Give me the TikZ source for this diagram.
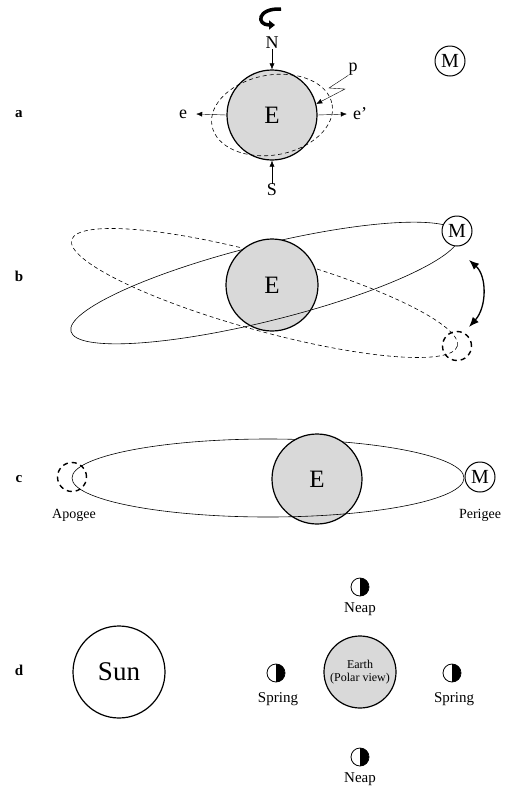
\documentclass[tikz,border=0pt]{standalone}
\usepackage{fontspec}
\setmainfont{Liberation Serif}
\usetikzlibrary{arrows.meta,calc}
\begin{document}
\begin{tikzpicture}[x=1pt,y=-1pt,
  planet/.style={circle,draw,line width=1.2pt,fill=black!15,inner sep=0pt,font=\fontsize{25}{25}\selectfont},
  moonM/.style={circle,draw,line width=1pt,fill=white,minimum size=30pt,inner sep=0pt,font=\fontsize{20}{20}\selectfont},
  ghost/.style={circle,draw,line width=1.4pt,dash pattern=on 5pt off 4pt,minimum size=29pt,inner sep=0pt},
  orbit/.style={line width=0.6pt},
  dorbit/.style={line width=0.6pt,dash pattern=on 4pt off 3pt},
  panel/.style={font=\bfseries\fontsize{15}{15}\selectfont,inner sep=0pt},
  lbl/.style={font=\fontsize{18}{18}\selectfont,inner sep=0pt},
  small/.style={font=\fontsize{14}{14}\selectfont,inner sep=0pt},
  tip/.style={-{Latex[length=6pt,width=5pt]}},
  phase/.style={circle,draw,line width=0.8pt,minimum size=18pt,inner sep=0pt,
    path picture={\fill (path picture bounding box.north) rectangle (path picture bounding box.south east);}},
]
\useasboundingbox (0,0) rectangle (504,788);

% ---------- a: tidal bulge ----------
\node[panel] (la) at (19,114) {a};
\node[planet,minimum size=90pt] (Ea) at (272,115) {E};
\draw[dorbit,rotate around={10:(Ea.center)}] (Ea.center) ellipse [x radius=61, y radius=40];
\node[lbl] (N) at (272,43) {N};
\node[lbl] (S) at (272,190) {S};
\draw[tip] (N.south) -- (Ea.north);
\draw[tip] (S.north) -- (Ea.south);
\node[lbl] (e) at (183,114) {e};
\node[lbl] (ep) at (360,114) {e’};
\draw[tip] (Ea.west) -- ([xshift=9]e.east);
\draw[tip] (Ea.east) -- ([xshift=-6]ep.west);
\node[lbl] (p) at (353,69) {p};
\draw[tip] (p.south west) -- (329,88) -- (345,89) -- (Ea.14);
% spin of the Earth
\coordinate (spin) at (281,9);
\draw[line width=3.5pt,-{Triangle[length=6pt,width=9pt]}] (spin) .. controls (257,8) and (256,25) .. (275,25);
\node[moonM] (Ma) at (450,61) {M};

% ---------- b: inclined orbits ----------
\node[panel] (lb) at (19,276) {b};
\coordinate (ob) at (265,283);
\coordinate (od) at (264.5,293);
\draw[orbit,rotate around={14:(ob)}] (ob) ellipse [x radius=200, y radius=38];
\draw[dorbit,rotate around={-15.4:(od)}] (od) ellipse [x radius=200, y radius=38];
\node[planet,minimum size=92pt] (Eb) at (272,285) {E};
\begin{scope}
  \clip (Eb.center) circle [radius=46];
  \begin{scope}
    \clip[rotate around={14:(ob)}] ($(ob)+(-210,0)$) rectangle ($(ob)+(210,60)$);
    \draw[orbit,rotate around={14:(ob)}] (ob) ellipse [x radius=200, y radius=38];
  \end{scope}
  \begin{scope}
    \clip[rotate around={-15.4:(od)}] ($(od)+(-210,0)$) rectangle ($(od)+(210,60)$);
    \draw[dorbit,rotate around={-15.4:(od)}] (od) ellipse [x radius=200, y radius=38];
  \end{scope}
\end{scope}
\node[moonM] (Mb) at (457,231) {M};
\node[ghost] (gb) at (457,346) {};
\coordinate (swingA) at (469,260);
\coordinate (swingB) at (469,327);
\draw[line width=1.3pt,{Latex[length=10pt,width=8pt]}-{Latex[length=10pt,width=8pt]}]
  (swingA) .. controls (487,276) and (487,307) .. (swingB);

% ---------- c: apogee and perigee ----------
\node[panel] (lc) at (19,479) {c};
\coordinate (oc) at (268,478);
\draw[orbit] (oc) ellipse [x radius=196, y radius=39];
\node[planet,minimum size=90pt] (Ec) at (317,479) {E};
\begin{scope}
  \clip (Ec.center) circle [radius=45];
  \clip ($(oc)+(-210,0)$) rectangle ($(oc)+(210,60)$);
  \draw[orbit] (oc) ellipse [x radius=196, y radius=39];
\end{scope}
\node[ghost] (gc) at (72,477) {};
\node[moonM] (Mc) at (480,477) {M};
\node[small] (apo) at (74,515) {Apogee};
\node[small] (peri) at (480,515) {Perigee};

% ---------- d: spring and neap tides ----------
\node[panel] (ld) at (19,670) {d};
\node[circle,draw,line width=1.2pt,minimum size=92pt,inner sep=0pt,font=\fontsize{27}{27}\selectfont] (sun) at (119,672) {Sun};
\node[planet,minimum size=72pt,align=center,font=\fontsize{12}{13}\selectfont] (Ed) at (360,672) {Earth\\(Polar view)};
\node[phase] (qt) at (360,587) {};
\node[phase] (qb) at (360,757) {};
\node[phase] (fl) at (276,673) {};
\node[phase] (fr) at (452,673) {};
\node[small,font=\fontsize{15}{15}\selectfont] (neapt) at (360,609) {Neap};
\node[small,font=\fontsize{15}{15}\selectfont] (neapb) at (360,779) {Neap};
\node[small,font=\fontsize{15}{15}\selectfont] (sprl) at (278,699) {Spring};
\node[small,font=\fontsize{15}{15}\selectfont] (sprr) at (454,699) {Spring};
\end{tikzpicture}
\end{document}
